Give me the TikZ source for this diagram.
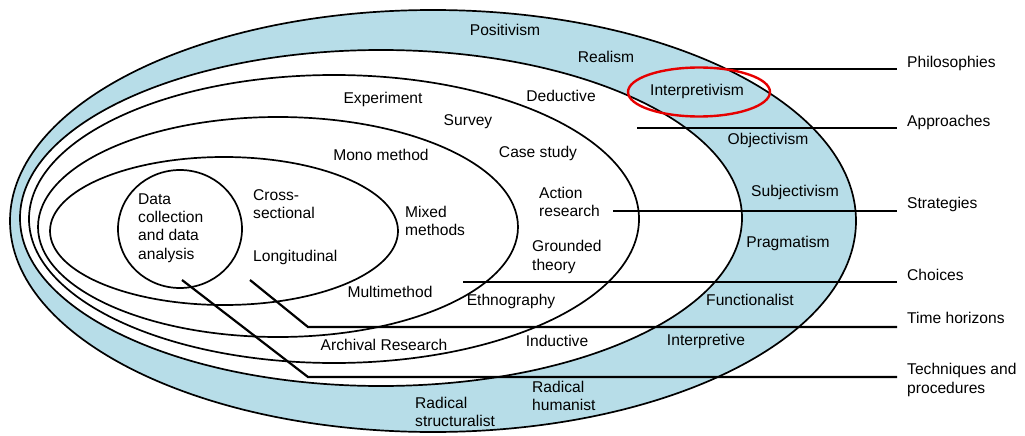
\documentclass[tikz,border=0pt]{standalone}
\usepackage{fontspec}
\setmainfont{Liberation Sans}
\begin{document}
\begin{tikzpicture}[x=1pt,y=-1pt,
  ring/.style={line width=1.7pt},
  rule/.style={line width=2.2pt},
  txt/.style={font=\fontsize{15.6}{18.4}\selectfont, inner sep=0pt, align=center},
  txtl/.style={txt, align=left, anchor=west},
  side/.style={txt, align=left, anchor=west, inner xsep=10pt}]
\definecolor{onion}{RGB}{183,221,232}
\definecolor{hilite}{RGB}{230,0,0}
\useasboundingbox (0,0) rectangle (1025,436);

% philosophy band
\fill[onion] (433,221) ellipse [x radius=423pt, y radius=211pt];
\fill[white] (381,218) ellipse [x radius=361pt, y radius=168pt];

% layers of the onion
\draw[ring] (433,221) ellipse [x radius=423pt, y radius=211pt];
\draw[ring] (381,218) ellipse [x radius=361pt, y radius=168pt];
\draw[ring] (334,219) ellipse [x radius=305pt, y radius=144pt];
\draw[ring] (278,227) ellipse [x radius=240pt, y radius=110pt];
\draw[ring] (224,231) ellipse [x radius=174pt, y radius=74pt];
\draw[ring] (180,229) ellipse [x radius=62pt, y radius=59pt];

% layer names on the right
\node[side] (philab) at (897,63) {Philosophies};
\node[side] (applab) at (897,122) {Approaches};
\node[side] (strlab) at (897,204) {Strategies};
\node[side] (chlab) at (897,275) {Choices};
\node[side] (timelab) at (897,318) {Time horizons};
\node[side] (techlab) at (897,380) {Techniques and\\procedures};

% leader lines
\coordinate (ph) at (720,69);
\coordinate (ap) at (637,128);
\coordinate (st) at (613,211);
\coordinate (ch) at (463,282);
\coordinate (th1) at (250,280);
\coordinate (th2) at (308,327);
\coordinate (tp1) at (182,280);
\coordinate (tp2) at (308,377);
\draw[rule] (ph) -- (ph -| philab.west);
\draw[rule] (ap) -- (ap -| applab.west);
\draw[rule] (st) -- (st -| strlab.west);
\draw[rule] (ch) -- (ch -| chlab.west);
\draw[rule] (th1) -- (th2) -- (th2 -| timelab.west);
\draw[rule] (tp1) -- (tp2) -- (tp2 -| techlab.west);

% philosophies
\node[txt] (positivism) at (505,30) {Positivism};
\node[txt] (realism) at (606,57) {Realism};
\node[txt] (interpretivism) at (697,91) {Interpretivism};
\draw[hilite, line width=2.4pt] (699,92) ellipse [x radius=71pt, y radius=24.5pt];
\node[txt] (objectivism) at (768,140) {Objectivism};
\node[txt] (subjectivism) at (795,192) {Subjectivism};
\node[txt] (pragmatism) at (788,243) {Pragmatism};
\node[txt] (functionalist) at (750,300) {Functionalist};
\node[txt] (interpretive) at (706,341) {Interpretive};
\node[txtl] (radhum) at (532,396) {Radical\\humanist};
\node[txtl] (radstruct) at (415,412) {Radical\\structuralist};

% approaches
\node[txt] (deductive) at (561,96) {Deductive};
\node[txt] (inductive) at (557,341) {Inductive};

% strategies
\node[txt] (experiment) at (383,99) {Experiment};
\node[txt] (survey) at (468,122) {Survey};
\node[txt] (casestudy) at (538,153) {Case study};
\node[txtl] (action) at (539,202) {Action\\research};
\node[txtl] (grounded) at (532,257) {Grounded\\theory};
\node[txt] (ethno) at (511,301) {Ethnography};
\node[txt] (archival) at (384,345) {Archival Research};

% choices
\node[txt] (mono) at (381,155) {Mono method};
\node[txtl] (mixed) at (405,221) {Mixed\\methods};
\node[txt] (multi) at (390,292) {Multimethod};

% time horizons
\node[txtl] (cross) at (253,204) {Cross-\\sectional};
\node[txtl] (longi) at (253,257) {Longitudinal};

% core
\node[txtl] (core) at (138,228) {Data\\collection\\and data\\analysis};
\end{tikzpicture}
\end{document}
